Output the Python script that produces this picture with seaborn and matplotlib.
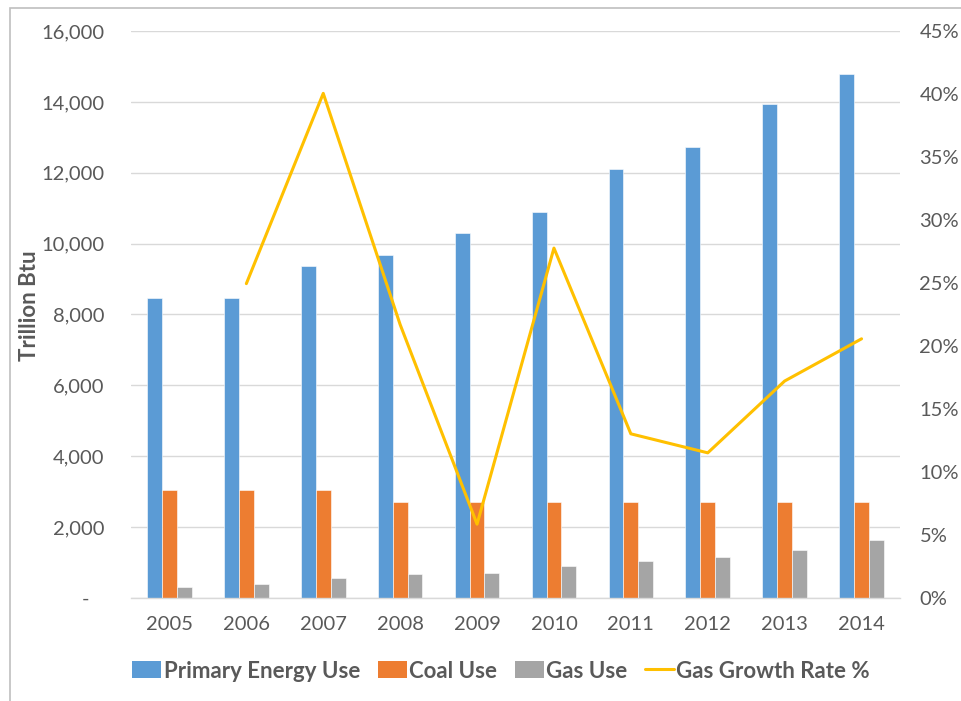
import matplotlib
matplotlib.use("Agg")
import matplotlib.pyplot as plt
import matplotlib.ticker as mticker
from matplotlib.patches import Rectangle, Patch
from matplotlib.lines import Line2D
import seaborn as sns
import numpy as np
import pandas as pd

# Data
years = ["2005", "2006", "2007", "2008", "2009", "2010", "2011", "2012", "2013", "2014"]
primary_energy = [8460, 8460, 9370, 9670, 10300, 10890, 12110, 12730, 13940, 14790]
coal_use = [3040, 3040, 3040, 2710, 2710, 2710, 2710, 2710, 2710, 2710]
gas_use = [306, 382, 554, 668, 697, 917, 1031, 1165, 1356, 1633]
gas_growth = [np.nan, 24.95, 40.05, 21.7, 5.86, 27.77, 13.03, 11.52, 17.22, 20.57]

series_names = ["Primary Energy Use", "Coal Use", "Gas Use"]
bar_colors = ["#5B9BD5", "#ED7D31", "#A5A5A5"]
line_color = "#FFC000"
text_color = "#595959"
grid_color = "#D9D9D9"

sns.set_theme(style="white")
plt.rcParams["font.family"] = ["Lato", "DejaVu Sans"]

df = pd.DataFrame({
    "Year": years * 3,
    "Series": [n for n in series_names for _ in years],
    "Value": primary_energy + coal_use + gas_use,
})

fig = plt.figure(figsize=(9.61, 7.01), dpi=100)
W, H = 961, 701
ax = fig.add_axes([131 / W, 1 - 598 / H, (900 - 131) / W, (598 - 31) / H])

sns.barplot(data=df, x="Year", y="Value", hue="Series", palette=bar_colors,
            saturation=1, width=0.58, gap=0, ax=ax, edgecolor="white",
            linewidth=0.4, legend=False, zorder=2)

ax.set_xlim(-0.5, 9.5)
ax.set_ylim(0, 16000)
ax.set_yticks(np.arange(0, 16001, 2000))
ax.yaxis.set_major_formatter(mticker.FuncFormatter(
    lambda v, p: "-   " if v == 0 else f"{int(v):,}"))
ax.grid(axis="y", color=grid_color, linewidth=1.0, zorder=0)
ax.set_axisbelow(True)
for s in ["top", "right", "left"]:
    ax.spines[s].set_visible(False)
ax.spines["bottom"].set_color(grid_color)
ax.spines["bottom"].set_linewidth(1.0)
ax.tick_params(axis="y", length=0, pad=19, labelsize=14.5, labelcolor=text_color)
ax.tick_params(axis="x", length=0, pad=13, labelsize=14.5, labelcolor=text_color)
ax.set_xlabel("")
ax.set_ylabel("Trillion Btu", fontsize=16, fontweight="bold", color=text_color)
ax.yaxis.set_label_coords(-0.118, 0.515)

ax2 = ax.twinx()
sns.lineplot(x=np.arange(len(years)), y=gas_growth, ax=ax2, color=line_color,
             linewidth=2.2)
ax2.set_ylim(0, 45)
ax2.set_yticks(np.arange(0, 46, 5))
ax2.yaxis.set_major_formatter(mticker.FuncFormatter(lambda v, p: f"{int(v)}%"))
for s in ["top", "right", "left", "bottom"]:
    ax2.spines[s].set_visible(False)
ax2.tick_params(axis="y", length=0, pad=14, labelsize=14.5, labelcolor=text_color)
ax2.set_xlim(-0.5, 9.5)

handles = [Patch(facecolor=c, edgecolor="none") for c in bar_colors]
handles.append(Line2D([0], [0], color=line_color, linewidth=2.2))
fig.legend(handles, series_names + ["Gas Growth Rate %"], loc="center",
           bbox_to_anchor=(501 / W, 1 - 671 / H), ncol=4, frameon=False,
           prop={"size": 16, "weight": "bold"}, labelcolor=text_color,
           handlelength=1.3, handleheight=0.8, handletextpad=0.1,
           columnspacing=0.8)

# chart area border (cropped)
fig.patches.append(Rectangle((10 / W, -0.1), 1.2, 1 - 8 / H + 0.1,
                             transform=fig.transFigure, fill=False,
                             edgecolor="#BFBFBF", linewidth=1.2))

fig.savefig("out.png", dpi=100)
